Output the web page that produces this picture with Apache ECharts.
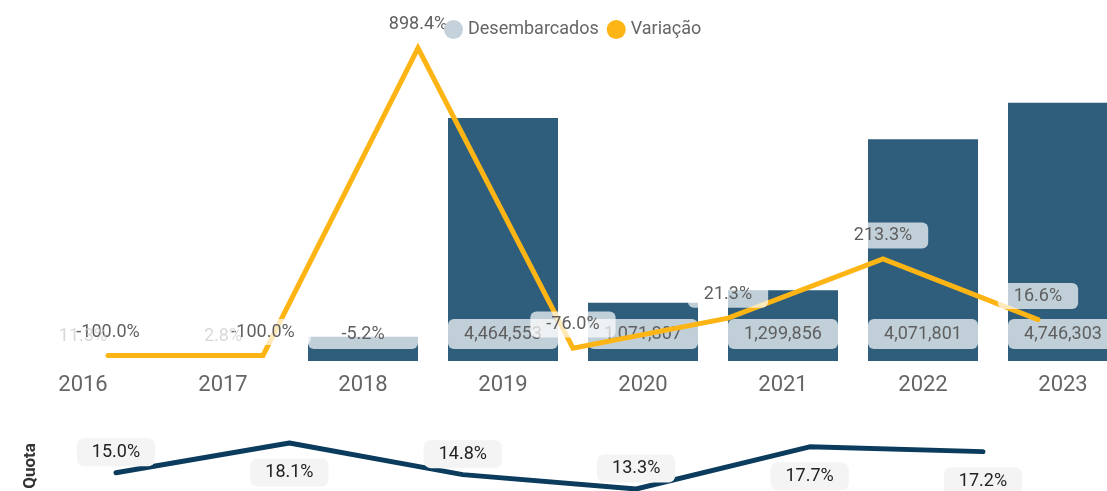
<!DOCTYPE html>
<html>
<head>
<meta charset="utf-8">
<script src="https://cdn.jsdelivr.net/npm/echarts@6/dist/echarts.min.js"></script>
<style>
  html, body { margin: 0; padding: 0; background: #fff; }
  #main { width: 1107px; height: 491px; }
</style>
</head>
<body>
<div id="main"></div>
<script>
// dados
var anos = ['2016', '2017', '2018', '2019', '2020', '2021', '2022', '2023'];
var desembarcados = [0, 0, 447170, 4464553, 1071807, 1299856, 4071801, 4746303];
// rotulos antigos que aparecem sobre as primeiras barras
var rotulosAntigos = ['11.3%', '2.8%', '-5.2%'];

var anosVariacao = ['2017', '2018', '2019', '2020', '2021', '2022', '2023'];
var variacao = [-100.0, -100.0, 898.4, -76.0, 21.3, 213.3, 16.6];

var anosQuota = ['2018', '2019', '2020', '2021', '2022', '2023'];
var quota = [15.0, 18.1, 14.8, 13.3, 17.7, 17.2];

var fonte = 'Roboto, "DejaVu Sans", sans-serif';
var azul = '#2F5E7D';
var amarelo = '#FDB515';
var caixa = 'rgba(255,255,255,0.7)';

var myChart = echarts.init(document.getElementById('main'));

// barras: os dois primeiros anos nao tem barra, o rotulo vai numa serie a parte
var dadosBarras = desembarcados.map(function (v, i) {
    var item = { value: v };
    if (i < 2) item.label = { show: false };
    return item;
});

// rotulos apagados de 2016 e 2017 (ficam por cima dos rotulos da variacao)
var dadosApagados = [];
for (var i = 0; i < 2; i++) {
    dadosApagados.push({ value: [anos[i], desembarcados[i]], texto: rotulosAntigos[i] });
}

var dadosQuota = quota.map(function (v) {
    return {
        value: v,
        label: { position: v > 16 ? 'bottom' : 'top', distance: v > 16 ? 15 : 6 }
    };
});

myChart.setOption({
    animation: false,
    textStyle: { fontFamily: fonte },
    legend: {
        left: 439,
        top: 15,
        icon: 'circle',
        itemWidth: 19,
        itemHeight: 19,
        itemGap: 8,
        textStyle: { fontSize: 18, color: '#666', fontFamily: fonte },
        data: [
            { name: 'Desembarcados', itemStyle: { color: '#C5D2DB' } },
            { name: 'Variação', itemStyle: { color: amarelo } }
        ]
    },
    grid: [
        { left: 13, right: -26, top: 48, bottom: 130, outerBoundsMode: 'none' },
        { left: 108, right: 69, top: 48, bottom: 135.5, outerBoundsMode: 'none' },
        { left: 116, right: 124, top: 443, bottom: 2, outerBoundsMode: 'none' }
    ],
    xAxis: [
        {
            type: 'category', gridIndex: 0, data: anos,
            axisLine: { show: false }, axisTick: { show: false },
            axisLabel: { fontSize: 22, color: '#666', margin: 13, fontFamily: fonte }
        },
        { type: 'category', gridIndex: 1, data: anosVariacao, boundaryGap: false, show: false },
        { type: 'category', gridIndex: 2, data: anosQuota, boundaryGap: false, show: false }
    ],
    yAxis: [
        { type: 'value', gridIndex: 0, min: 0, max: 5750000, show: false },
        { type: 'value', gridIndex: 1, min: -100, max: 898.4, show: false },
        {
            type: 'value', gridIndex: 2, min: 13.3, max: 18.1,
            name: 'Quota', nameLocation: 'middle', nameRotate: 90, nameGap: 77,
            nameTextStyle: { fontSize: 17, fontWeight: 'bold', color: '#333', fontFamily: fonte },
            axisLine: { show: false }, axisTick: { show: false },
            axisLabel: { show: false }, splitLine: { show: false }
        }
    ],
    series: [
        {
            name: 'Desembarcados',
            type: 'bar',
            xAxisIndex: 0, yAxisIndex: 0,
            barWidth: 110,
            data: dadosBarras,
            itemStyle: { color: azul },
            z: 2,
            label: {
                show: true,
                position: 'insideBottom',
                distance: 12,
                width: 86,
                align: 'center',
                padding: [6, 12],
                fontSize: 18,
                color: '#5f5f5f',
                backgroundColor: caixa,
                borderRadius: 6,
                fontFamily: fonte,
                formatter: function (p) {
                    if (p.dataIndex < rotulosAntigos.length) return rotulosAntigos[p.dataIndex];
                    return p.value.toLocaleString('en-US');
                }
            }
        },
        {
            name: 'Variação',
            type: 'line',
            xAxisIndex: 1, yAxisIndex: 1,
            data: variacao,
            clip: false,
            symbol: 'circle',
            symbolSize: 1,
            itemStyle: { color: amarelo },
            lineStyle: { color: amarelo, width: 5, cap: 'round', join: 'miter' },
            z: 3,
            label: {
                show: true,
                position: 'top',
                distance: 10,
                padding: [4, 16],
                fontSize: 18,
                color: '#5f5f5f',
                backgroundColor: caixa,
                borderRadius: 6,
                fontFamily: fonte,
                formatter: function (p) { return p.value.toFixed(1) + '%'; }
            }
        },
        {
            name: 'rotulos antigos',
            type: 'scatter',
            xAxisIndex: 0, yAxisIndex: 0,
            data: dadosApagados,
            symbolSize: 0,
            silent: true,
            z: 5,
            label: {
                show: true,
                position: 'inside',
                offset: [0, -25],
                fontSize: 18,
                color: '#cfcfcf',
                fontFamily: fonte,
                formatter: function (p) { return p.data.texto; }
            }
        },
        {
            name: 'Quota',
            type: 'line',
            xAxisIndex: 2, yAxisIndex: 2,
            data: dadosQuota,
            clip: false,
            symbol: 'circle',
            symbolSize: 1,
            itemStyle: { color: '#0B3C5D' },
            lineStyle: { color: '#0B3C5D', width: 5, cap: 'round' },
            label: {
                show: true,
                padding: [5, 15],
                fontSize: 18,
                color: '#222',
                backgroundColor: '#F4F4F4',
                borderRadius: 7,
                fontFamily: fonte,
                formatter: function (p) { return p.value.toFixed(1) + '%'; }
            }
        }
    ]
});
</script>
</body>
</html>
